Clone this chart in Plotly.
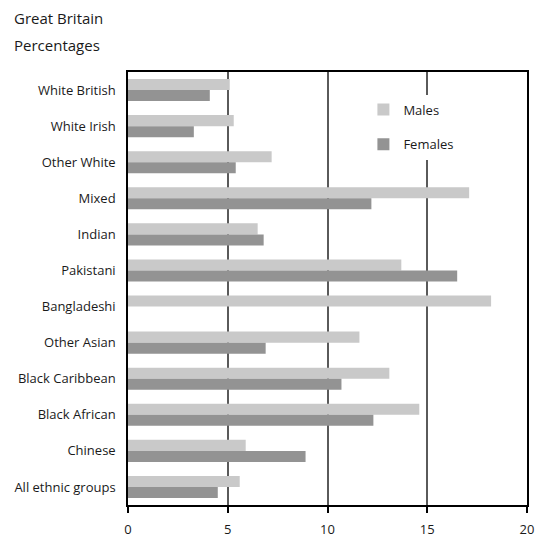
import plotly.graph_objects as go

categories = ["White British", "White Irish", "Other White", "Mixed", "Indian",
              "Pakistani", "Bangladeshi", "Other Asian", "Black Caribbean",
              "Black African", "Chinese", "All ethnic groups"]
males = [5.1, 5.3, 7.2, 17.1, 6.5, 13.7, 18.2, 11.6, 13.1, 14.6, 5.9, 5.6]
females = [4.1, 3.3, 5.4, 12.2, 6.8, 16.5, None, 6.9, 10.7, 12.3, 8.9, 4.5]
x_ticks = [0, 5, 10, 15, 20]

FONT = "Open Sans"

fig = go.Figure()
fig.add_trace(go.Bar(y=categories, x=males, name="Males", orientation="h",
                     marker=dict(color="#c9c9c9", line=dict(width=0)),
                     legendgroup="m"))
fig.add_trace(go.Bar(y=categories, x=females, name="Females", orientation="h",
                     marker=dict(color="#939393", line=dict(width=0)),
                     legendgroup="f"))

# the page body adds an 8px margin, so the figure is sized to fit the window
fig.update_layout(
    width=539, height=530,
    margin=dict(l=120, r=20, t=64, b=33, autoexpand=False),
    paper_bgcolor="white", plot_bgcolor="white",
    font=dict(family=FONT, size=13, color="#1a1a1a"),
    barmode="group", bargap=0.39, bargroupgap=0,
    showlegend=True,
    legend=dict(x=0.59, y=0.948, xanchor="left", yanchor="top",
                bgcolor="white", borderwidth=0,
                font=dict(family=FONT, size=13, color="#1a1a1a"),
                tracegroupgap=15, traceorder="grouped",
                itemwidth=30),
    xaxis=dict(range=[0, 20], tickvals=x_ticks, ticktext=[str(v) for v in x_ticks],
               automargin=False,
               showgrid=True, gridcolor="#5a5a5a", gridwidth=1.5,
               showline=True, linecolor="black", linewidth=1.5, mirror=True,
               ticks="outside", ticklen=6, tickcolor="black", tickwidth=1.5,
               ticklabelstandoff=6, zeroline=False,
               tickfont=dict(family=FONT, size=13)),
    yaxis=dict(autorange="reversed", showgrid=False, automargin=False,
               showline=True, linecolor="black", linewidth=1.5, mirror=True,
               ticks="", ticklabelstandoff=8,
               tickfont=dict(family=FONT, size=13)),
    annotations=[
        dict(text="Great Britain", xref="paper", yref="paper", x=-0.29, y=1.1247,
             xanchor="left", yanchor="middle", showarrow=False,
             font=dict(family=FONT, size=15, color="#1a1a1a")),
        dict(text="Percentages", xref="paper", yref="paper", x=-0.29, y=1.0624,
             xanchor="left", yanchor="middle", showarrow=False,
             font=dict(family=FONT, size=15, color="#1a1a1a")),
    ],
)

fig.write_html("out.html")
